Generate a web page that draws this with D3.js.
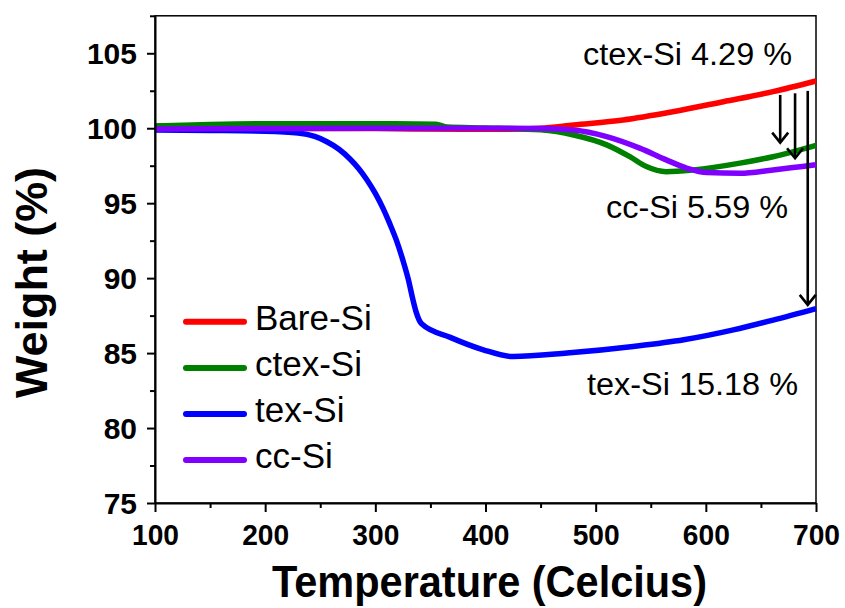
<!DOCTYPE html>
<html>
<head>
<meta charset="utf-8">
<script src="https://cdn.jsdelivr.net/npm/d3@7"></script>
<style>
  html, body { margin: 0; padding: 0; background: #fff; }
  svg { display: block; }
  text { font-family: "Liberation Sans", Arial, sans-serif; fill: #000; }
</style>
</head>
<body>
<svg id="chart" width="845" height="608"></svg>
<script>
// TGA curves: temperature (°C) vs. residual weight (%)
const bareT  = [100, 150, 200, 300, 380, 420, 450, 480, 525, 570, 616, 661, 700];
const bareW  = [100.15, 100.05, 100.0, 99.98, 99.93, 99.93, 100.0, 100.22, 100.55, 101.1, 101.77, 102.44, 103.15];

const ctexT  = [100, 150, 200, 300, 355, 365, 400, 450, 480, 510, 531, 546, 564, 589, 631, 661, 700];
const ctexW  = [100.15, 100.25, 100.3, 100.3, 100.27, 100.08, 100.02, 99.89, 99.55, 98.89, 98.1, 97.44, 97.1, 97.22, 97.67, 98.1, 98.86];

const texT   = [100, 150, 200, 230, 245, 256, 267, 277, 285, 292, 300, 307, 313, 319, 325, 330, 334, 337, 342, 368, 398, 425, 474, 534, 580, 625, 661, 700];
const texW   = [99.88, 99.85, 99.8, 99.68, 99.45, 99.1, 98.6, 97.95, 97.3, 96.6, 95.65, 94.65, 93.65, 92.55, 91.2, 89.9, 88.6, 87.75, 86.95, 86.05, 85.22, 84.77, 85.0, 85.44, 85.89, 86.55, 87.2, 87.97];

const ccT    = [100, 200, 300, 400, 450, 480, 510, 540, 564, 583, 601, 631, 661, 700];
const ccW    = [99.95, 99.98, 100.0, 100.0, 99.98, 99.88, 99.44, 98.67, 97.89, 97.33, 97.04, 97.0, 97.22, 97.56];

const seriesNames  = ["Bare-Si", "ctex-Si", "tex-Si", "cc-Si"];
const seriesColors = ["#ff0000", "#008000", "#0000ff", "#8000ff"];

const xTicks = [100, 200, 300, 400, 500, 600, 700];
const xMinor = [150, 250, 350, 450, 550, 650];
const yTicks = [75, 80, 85, 90, 95, 100, 105];
const yMinor = [77.5, 82.5, 87.5, 92.5, 97.5, 102.5, 107.5];

// Weight-loss arrows (temperature, start weight, end weight)
const arrowT    = [667.5, 681, 692.5];
const arrowFrom = [102.22, 102.33, 102.49];
const arrowTo   = [99.04, 98.0, 88.22];

const notes = ["ctex-Si 4.29 %", "cc-Si 5.59 %", "tex-Si 15.18 %"];

const svg = d3.select("#chart");
const x = d3.scaleLinear().domain([100, 700]).range([155, 816]);
const y = d3.scaleLinear().domain([75, 107.5]).range([503, 15.8]);

// frame
svg.append("rect")
  .attr("x", x(100)).attr("y", y(107.5))
  .attr("width", x(700) - x(100)).attr("height", y(75) - y(107.5))
  .attr("fill", "none").attr("stroke", "#000").attr("stroke-width", 1.5);

// curves
const line = d3.line().x(d => x(d[0])).y(d => y(d[1])).curve(d3.curveMonotoneX);
const curves = [
  d3.zip(bareT, bareW),
  d3.zip(ctexT, ctexW),
  d3.zip(texT, texW),
  d3.zip(ccT, ccW)
];
curves.forEach((pts, i) => {
  svg.append("path")
    .attr("d", line(pts))
    .attr("fill", "none")
    .attr("stroke", seriesColors[i])
    .attr("stroke-width", 5.5)
    .attr("stroke-linejoin", "round");
});

// axes
function styleAxis(g) {
  g.select(".domain").attr("stroke-width", 2);
  g.selectAll(".tick line").attr("stroke-width", 2);
  g.selectAll(".tick text")
    .attr("font-family", "Liberation Sans, Arial, sans-serif")
    .attr("font-weight", "bold")
    .attr("font-size", 30);
}
const xAxis = svg.append("g").attr("transform", `translate(0,${y(75)})`)
  .call(d3.axisBottom(x).tickValues(xTicks).tickSize(9).tickSizeOuter(0));
styleAxis(xAxis);
xAxis.selectAll(".tick text").attr("y", 42).attr("dy", 0)
  .attr("textLength", 47).attr("lengthAdjust", "spacingAndGlyphs");

svg.append("g").attr("transform", `translate(0,${y(75)})`)
  .call(d3.axisBottom(x).tickValues(xMinor).tickSize(5).tickFormat(""))
  .call(g => g.select(".domain").remove())
  .call(g => g.selectAll(".tick line").attr("stroke-width", 2));

const yAxis = svg.append("g").attr("transform", `translate(${x(100)},0)`)
  .call(d3.axisLeft(y).tickValues(yTicks).tickSize(8).tickSizeOuter(0));
styleAxis(yAxis);
yAxis.selectAll(".tick text").attr("x", -18).attr("dy", 0).attr("y", 10.5);

svg.append("g").attr("transform", `translate(${x(100)},0)`)
  .call(d3.axisLeft(y).tickValues(yMinor).tickSize(5).tickFormat(""))
  .call(g => g.select(".domain").remove())
  .call(g => g.selectAll(".tick line").attr("stroke-width", 2));

// axis titles
svg.append("text")
  .attr("x", 489.5).attr("y", 597)
  .attr("text-anchor", "middle")
  .attr("font-weight", "bold").attr("font-size", 44)
  .attr("textLength", 435).attr("lengthAdjust", "spacingAndGlyphs")
  .text("Temperature (Celcius)");

svg.append("text")
  .attr("transform", "translate(47,282.5) rotate(-90)")
  .attr("text-anchor", "middle")
  .attr("font-weight", "bold").attr("font-size", 44)
  .attr("textLength", 231).attr("lengthAdjust", "spacingAndGlyphs")
  .text("Weight (%)");

// arrows
arrowT.forEach((t, i) => {
  const ax = x(t), y0 = y(arrowFrom[i]), y1 = y(arrowTo[i]);
  const g = svg.append("g").attr("stroke", "#000").attr("stroke-width", 2.6).attr("fill", "none");
  g.append("line").attr("x1", ax).attr("x2", ax).attr("y1", y0).attr("y2", y1 - 1);
  g.append("polyline")
    .attr("points", `${ax - 8},${y1 - 10} ${ax},${y1} ${ax + 8},${y1 - 10}`)
    .attr("stroke-linejoin", "miter");
});

// annotations
const noteX = [792, 788, 798];
const noteY = [65, 218, 395];
const noteLen = [209, 182, 211];
notes.forEach((s, i) => {
  svg.append("text")
    .attr("x", noteX[i]).attr("y", noteY[i])
    .attr("text-anchor", "end")
    .attr("font-size", 31)
    .attr("textLength", noteLen[i]).attr("lengthAdjust", "spacingAndGlyphs")
    .text(s);
});

// legend
const legY = [321.7, 368, 414, 460];
seriesNames.forEach((name, i) => {
  svg.append("line")
    .attr("x1", 186).attr("x2", 244)
    .attr("y1", legY[i]).attr("y2", legY[i])
    .attr("stroke", seriesColors[i]).attr("stroke-width", 6)
    .attr("stroke-linecap", "round");
  svg.append("text")
    .attr("x", 255).attr("y", legY[i] + 8.3)
    .attr("font-size", 35)
    .text(name);
});
</script>
</body>
</html>
